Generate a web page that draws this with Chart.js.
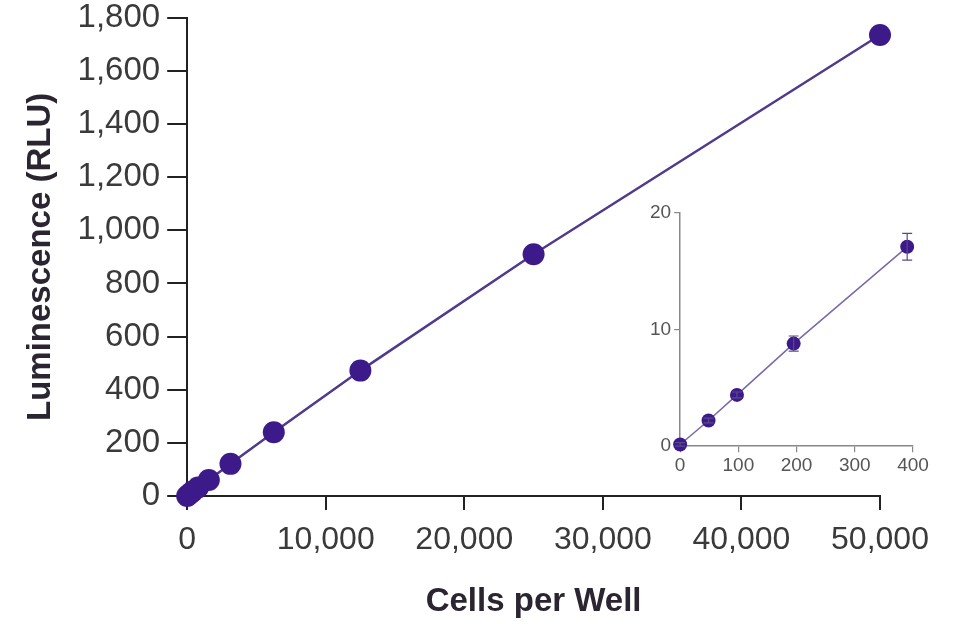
<!DOCTYPE html>
<html>
<head>
<meta charset="utf-8">
<script src="https://cdn.jsdelivr.net/npm/chart.js@4/dist/chart.umd.min.js"></script>
<style>
  html, body { margin: 0; padding: 0; background: #fff; overflow: hidden; }
  #wrap { position: relative; width: 964px; height: 624px; overflow: hidden; }
  #mainCanvas { position: absolute; left: 0; top: -9px; }
  #insetCanvas { position: absolute; left: 627px; top: 195px; }
</style>
</head>
<body>
<div id="wrap">
  <canvas id="mainCanvas" width="964" height="633"></canvas>
  <canvas id="insetCanvas" width="304" height="284"></canvas>
</div>
<script>
"use strict";

// main plot: cells per well vs luminescence
const cellsPerWell = [0, 195, 390, 781, 1562, 3125, 6250, 12500, 25000, 50000];
const luminescence = [0, 8.8, 17.1, 32, 60, 121, 240, 472, 910, 1735];
const mainXTicks = [0, 10000, 20000, 30000, 40000, 50000];
const mainYTicks = [0, 200, 400, 600, 800, 1000, 1200, 1400, 1600, 1800];

// inset: low cell numbers, with error bars
const insetCells = [0, 48.8, 97.6, 195, 390];
const insetLum   = [0.15, 2.2, 4.4, 8.8, 17.1];
const insetErr   = [0.15, 0.2, 0.25, 0.65, 1.15];
const insetXTicks = [0, 100, 200, 300, 400];
const insetYTicks = [0, 10, 20];

const DOT = '#3d1a8a';
const LINE = '#4f3a8c';
const TICK_FONT = '"Liberation Sans", Arial, sans-serif';
const TITLE_FONT = '"Liberation Sans", Arial, sans-serif';

const fmt = v => v.toLocaleString('en-US');

// Main chart
new Chart(document.getElementById('mainCanvas'), {
  type: 'scatter',
  data: {
    datasets: [{
      data: cellsPerWell.map((x, i) => ({ x, y: luminescence[i] })),
      showLine: true,
      borderColor: LINE,
      borderWidth: 2.5,
      pointRadius: 11,
      pointBackgroundColor: DOT,
      pointBorderColor: DOT,
      pointBorderWidth: 0,
      clip: false,
    }]
  },
  options: {
    responsive: false,
    animation: false,
    layout: { padding: { left: 21, right: 84, top: 8, bottom: 0 } },
    plugins: { legend: { display: false }, tooltip: { enabled: false } },
    scales: {
      x: {
        type: 'linear', min: 0, max: 50000,
        afterBuildTicks: s => { s.ticks = mainXTicks.map(value => ({ value })); },
        ticks: { color: '#3a3a3a', font: { family: TICK_FONT, size: 32 }, padding: 11, maxRotation: 0, callback: v => fmt(v) },
        grid: { drawOnChartArea: false, drawTicks: true, tickLength: 14, color: '#222', lineWidth: 2 },
        border: { display: true, color: '#222', width: 2 },
        title: { display: true, text: 'Cells per Well', color: '#2a2530', font: { family: TITLE_FONT, size: 33, weight: 'bold' }, padding: { top: 12, bottom: 2 } }
      },
      y: {
        type: 'linear', min: 0, max: 1800,
        afterBuildTicks: s => { s.ticks = mainYTicks.map(value => ({ value })); },
        ticks: { color: '#3a3a3a', font: { family: TICK_FONT, size: 33 }, padding: 7, callback: v => fmt(v) },
        grid: { drawOnChartArea: false, drawTicks: true, tickLength: 20, color: '#222', lineWidth: 2 },
        border: { display: true, color: '#222', width: 2 },
        title: { display: true, text: 'Luminescence (RLU)', color: '#2a2530', font: { family: TITLE_FONT, size: 33, weight: 'bold' }, padding: { top: 0, bottom: 10 } }
      }
    }
  }
});

// draws the vertical error bars of the inset from the scale
const errorBars = {
  id: 'errorBars',
  afterDatasetsDraw(chart) {
    const { ctx, scales } = chart;
    const meta = chart.getDatasetMeta(0);
    ctx.save();
    ctx.strokeStyle = '#5a4a8a';
    ctx.lineWidth = 1.2;
    meta.data.forEach((pt, i) => {
      const top = scales.y.getPixelForValue(insetLum[i] + insetErr[i]);
      const bot = scales.y.getPixelForValue(insetLum[i] - insetErr[i]);
      ctx.beginPath();
      ctx.moveTo(pt.x, top); ctx.lineTo(pt.x, bot);
      ctx.moveTo(pt.x - 5, top); ctx.lineTo(pt.x + 5, top);
      ctx.moveTo(pt.x - 5, bot); ctx.lineTo(pt.x + 5, bot);
      ctx.stroke();
    });
    ctx.restore();
  }
};

// Inset chart
new Chart(document.getElementById('insetCanvas'), {
  type: 'scatter',
  data: {
    datasets: [{
      data: insetCells.map((x, i) => ({ x, y: insetLum[i] })),
      showLine: true,
      borderColor: '#7a68a8',
      borderWidth: 1.5,
      pointRadius: 7,
      pointBackgroundColor: DOT,
      pointBorderColor: DOT,
      pointBorderWidth: 0,
      clip: false,
    }]
  },
  options: {
    responsive: false,
    animation: false,
    layout: { padding: { left: 20, right: 18, top: 18, bottom: 0 } },
    plugins: { legend: { display: false }, tooltip: { enabled: false } },
    scales: {
      x: {
        type: 'linear', min: 0, max: 400,
        afterBuildTicks: s => { s.ticks = insetXTicks.map(value => ({ value })); },
        ticks: { color: '#555', font: { family: TICK_FONT, size: 19 }, padding: 2, maxRotation: 0 },
        grid: { drawOnChartArea: false, drawTicks: true, tickLength: 6, color: '#888', lineWidth: 1.2 },
        border: { display: true, color: '#888', width: 1.5 }
      },
      y: {
        type: 'linear', min: 0, max: 20,
        afterBuildTicks: s => { s.ticks = insetYTicks.map(value => ({ value })); },
        ticks: { color: '#555', font: { family: TICK_FONT, size: 19 }, padding: 3 },
        grid: { drawOnChartArea: false, drawTicks: true, tickLength: 6, color: '#888', lineWidth: 1.2 },
        border: { display: true, color: '#888', width: 1.5 }
      }
    }
  },
  plugins: [errorBars]
});
</script>
</body>
</html>
